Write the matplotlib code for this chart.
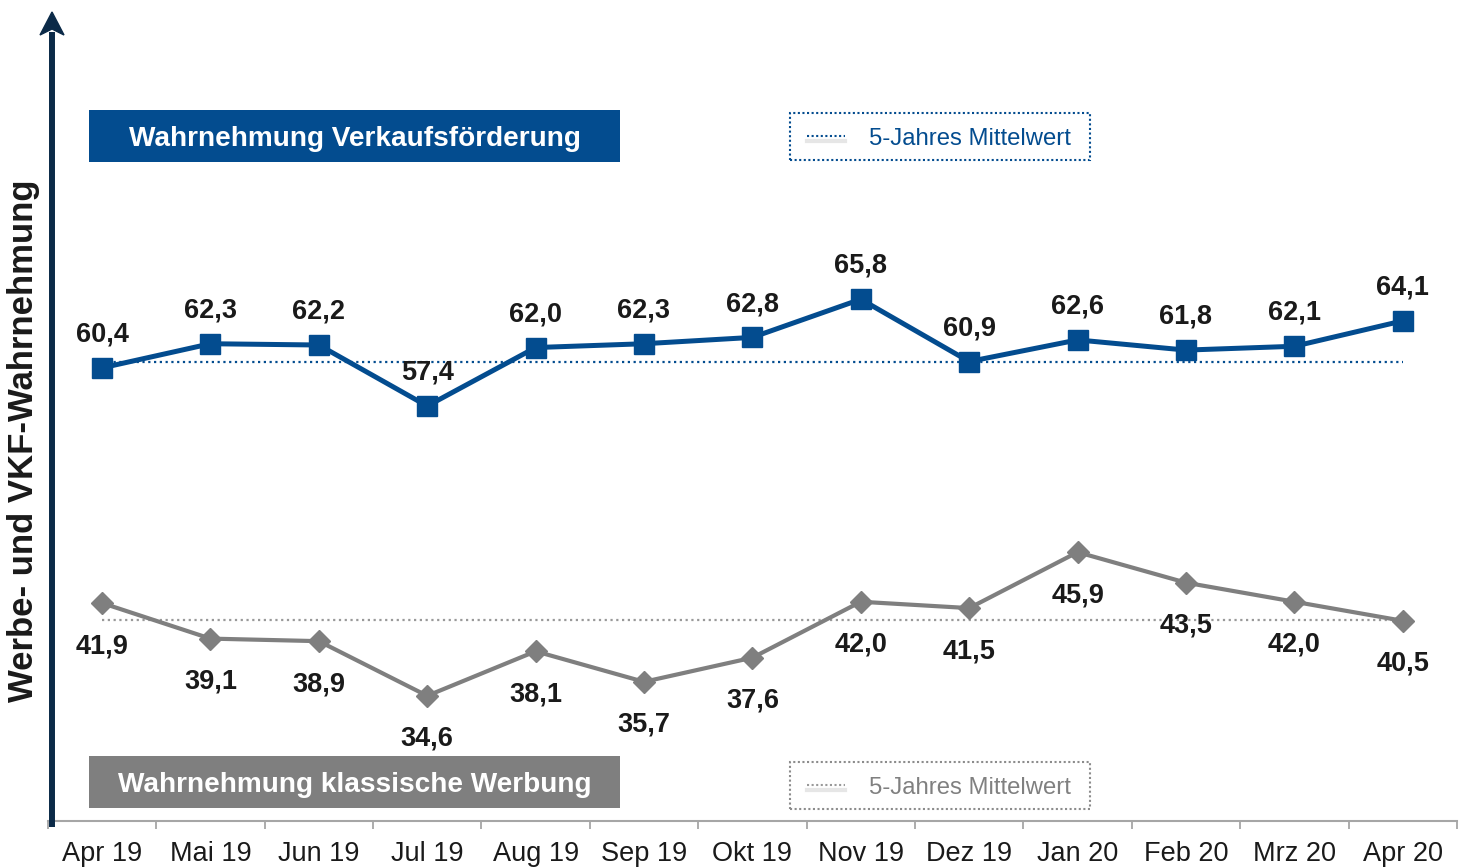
import matplotlib
matplotlib.use("Agg")
import matplotlib.pyplot as plt
from matplotlib.patches import Rectangle
from matplotlib.lines import Line2D

plt.rcParams['font.family'] = ['Liberation Sans', 'DejaVu Sans']

months = ["Apr 19", "Mai 19", "Jun 19", "Jul 19", "Aug 19", "Sep 19", "Okt 19",
          "Nov 19", "Dez 19", "Jan 20", "Feb 20", "Mrz 20", "Apr 20"]
vkf = [60.4, 62.3, 62.2, 57.4, 62.0, 62.3, 62.8, 65.8, 60.9, 62.6, 61.8, 62.1, 64.1]
werbung = [41.9, 39.1, 38.9, 34.6, 38.1, 35.7, 37.6, 42.0, 41.5, 45.9, 43.5, 42.0, 40.5]
vkf_mean = 60.9
werbung_mean = 40.6

title_vkf = "Wahrnehmung Verkaufsförderung"
title_werbung = "Wahrnehmung klassische Werbung"
legend_text = "5-Jahres Mittelwert"
ylabel = "Werbe- und VKF-Wahrnehmung"

BLUE = "#034C8F"
GRAY = "#7F7F7F"
NAVY = "#0B2A48"
TXT = "#1A1A1A"

W, H = 1464, 868
fig = plt.figure(figsize=(W / 100, H / 100), dpi=100)


def fx(px):
    return px / W


def fy(py):
    return 1 - py / H


ax_left, ax_right, ax_top, ax_bot = 47.8, 1457.0, 12.0, 821.0
ax = fig.add_axes([fx(ax_left), fy(ax_bot), fx(ax_right - ax_left), (ax_bot - ax_top) / H])
ax.set_xlim(-0.5, len(months) - 0.5)
ax.set_ylim(24.75, 88.4)

x = list(range(len(months)))

# mean lines
ax.plot([x[0], x[-1]], [vkf_mean, vkf_mean], color=BLUE, lw=1.6, ls=(0, (1, 1.6)), zorder=2)
ax.plot([x[0], x[-1]], [werbung_mean, werbung_mean], color="#999999", lw=1.6, ls=(0, (1, 1.6)), zorder=2)

ax.plot(x, vkf, color=BLUE, lw=3.6, marker='s', markersize=14.5, zorder=4)
ax.plot(x, werbung, color=GRAY, lw=3.0, marker='D', markersize=11.5, zorder=3)

for xi, v in zip(x, vkf):
    ax.annotate(f"{v:.1f}".replace('.', ','), (xi, v), xytext=(0, 24), textcoords='offset points',
                ha='center', va='center', fontsize=19.5, fontweight='bold', color=TXT, zorder=6)
for xi, v in zip(x, werbung):
    ax.annotate(f"{v:.1f}".replace('.', ','), (xi, v), xytext=(0, -31), textcoords='offset points',
                ha='center', va='center', fontsize=19.5, fontweight='bold', color=TXT, zorder=6)

# axes styling
for s in ['top', 'right', 'left']:
    ax.spines[s].set_visible(False)
ax.spines['bottom'].set_color("#A6A6A6")
ax.spines['bottom'].set_linewidth(1.5)
ax.set_yticks([])
ax.set_xticks([i - 0.5 for i in range(len(months) + 1)])
ax.set_xticklabels([])
ax.tick_params(axis='x', which='major', direction='out', length=6, width=1.3, color="#A6A6A6")
ax.set_xticks(x, minor=True)
ax.set_xticklabels(months, minor=True, fontsize=19.5, color=TXT)
ax.tick_params(axis='x', which='minor', length=0, pad=14.5)

# y arrow
fig.add_artist(Line2D([fx(52), fx(52)], [fy(827), fy(32)], color=NAVY, lw=4.3, solid_capstyle='butt'))
fig.patches.append(plt.Polygon([[fx(40), fy(35)], [fx(52), fy(12)], [fx(64), fy(35)], [fx(52), fy(29)]],
                               closed=True, transform=fig.transFigure, color=NAVY))

fig.text(fx(24), fy(441), ylabel, rotation=90, ha='center', va='center', fontsize=25,
         fontweight='bold', color=TXT)

# banners
def banner(y0, y1, color, text):
    fig.patches.append(Rectangle((fx(89), fy(y1)), fx(620 - 89), (y1 - y0) / H,
                                 transform=fig.transFigure, facecolor=color, edgecolor='none'))
    fig.text(fx(354.5), fy((y0 + y1) / 2 + 3), text, ha='center', va='center', fontsize=20.2,
             fontweight='bold', color='white')

banner(110, 162, BLUE, title_vkf)
banner(756, 808, GRAY, title_werbung)

# legend boxes
def legend_box(y0, y1, color, linecolor, textcolor):
    fig.patches.append(Rectangle((fx(790), fy(y1)), fx(1090 - 790), (y1 - y0) / H,
                                 transform=fig.transFigure, facecolor='white', edgecolor=color,
                                 lw=1.5, ls=(0, (1, 1.2))))
    yc = (y0 + y1) / 2
    fig.add_artist(Line2D([fx(807), fx(845)], [fy(yc + 4), fy(yc + 4)], color="#E6E6E6", lw=3))
    fig.add_artist(Line2D([fx(807), fx(845)], [fy(yc - 1), fy(yc - 1)], color=linecolor, lw=1.5,
                          ls=(0, (1, 1.2))))
    fig.text(fx(869), fy(yc + 2.5), legend_text, ha='left', va='center', fontsize=17.2, color=textcolor)

legend_box(113, 160, BLUE, BLUE, BLUE)
legend_box(762, 809, "#8C8C8C", "#999999", "#808080")

fig.savefig("out.png", dpi=100)
